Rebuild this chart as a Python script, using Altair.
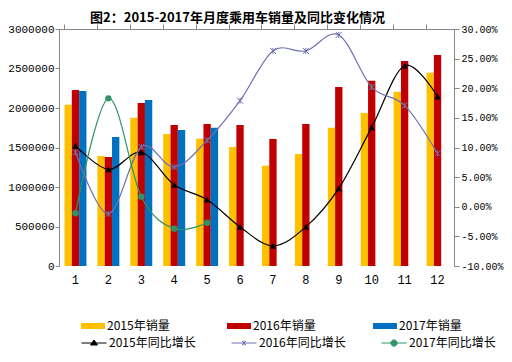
import altair as alt
import pandas as pd

# ---------------- data ----------------
months = [1, 2, 3, 4, 5, 6, 7, 8, 9, 10, 11, 12]
bar_names = ["2015年销量", "2016年销量", "2017年销量"]
bar_colors = ["#FFC000", "#C00000", "#0070C0"]
sales_2015 = [2040000, 1393000, 1877000, 1671000, 1611000, 1506000, 1270000, 1418000, 1751000, 1937000, 2207000, 2447000]
sales_2016 = [2228000, 1380000, 2063000, 1785000, 1797000, 1785000, 1608000, 1797000, 2266000, 2346000, 2595000, 2671000]
sales_2017 = [2215000, 1633000, 2101000, 1722000, 1751000]

growth_names = ["2015年同比增长", "2016年同比增长", "2017年同比增长"]
growth_colors = ["#000000", "#7070B0", "#2E9464"]
growth_2015 = [10.3, 6.3, 9.2, 3.7, 1.2, -3.4, -6.6, -3.4, 3.1, 13.4, 23.8, 18.6]
growth_2016 = [9.2, -1.2, 10.1, 6.7, 11.2, 17.9, 26.3, 26.3, 29.0, 20.2, 17.1, 9.0]
growth_2017 = [-1.1, 18.3, 1.7, -3.7, -2.7]

left_ticks = [0, 500000, 1000000, 1500000, 2000000, 2500000, 3000000]
right_ticks = [-0.10, -0.05, 0.0, 0.05, 0.10, 0.15, 0.20, 0.25, 0.30]
title_text = "图2：2015-2017年月度乘用车销量及同比变化情况"

# ---------------- tables ----------------
bar_rows = []
for name, vals in zip(bar_names, [sales_2015, sales_2016, sales_2017]):
    for m, v in zip(months, vals):
        bar_rows.append({"month": m, "series": name, "value": v})
bar_df = pd.DataFrame(bar_rows)

AX = "#868686"
NUMFONT = "Liberation Mono"
CJK = "Noto Sans CJK SC"

xscale = alt.Scale(domain=months, paddingInner=0.333, paddingOuter=0.1667)
yl_scale = alt.Scale(domain=[0, 3000000], nice=False, zero=True)
yr_scale = alt.Scale(domain=[-0.10, 0.30], nice=False, zero=False)

bars = alt.Chart(bar_df).mark_bar().encode(
    x=alt.X("month:O", scale=xscale, sort=months,
            axis=alt.Axis(title=None, labelAngle=0, ticks=False, tickSize=0, domain=False,
                          labelPadding=8, labelFont=NUMFONT, labelFontSize=12, labelColor="#000")),
    xOffset=alt.XOffset("series:N", scale=alt.Scale(domain=bar_names, paddingInner=0, paddingOuter=0)),
    y=alt.Y("value:Q", scale=yl_scale,
            axis=alt.Axis(title=None, orient="left", values=left_ticks, format="d", grid=False,
                          tickSize=4, tickColor=AX, domainColor=AX, labelPadding=1,
                          labelFont=NUMFONT, labelFontSize=11, labelColor="#000")),
    color=alt.Color("series:N", scale=alt.Scale(domain=bar_names, range=bar_colors),
                    legend=alt.Legend(orient="none", legendX=22, legendY=285, direction="horizontal",
                                      title=None, symbolType="M-1,-0.25H1V0.25H-1Z", symbolSize=576,
                                      symbolStrokeWidth=0, labelFont=CJK, labelFontSize=12,
                                      labelColor="#000", labelOffset=2, columnPadding=57)),
)

layers = [bars]

star_path = "M-1,-1L1,1M-1,1L1,-1M0,-1V1"
specs = [
    (growth_2015, growth_colors[0], "triangle-up", 45, True),
    (growth_2016, growth_colors[1], star_path, 36, False),
    (growth_2017, growth_colors[2], "circle", 40, True),
]
for i, (vals, col, shp, sz, filled) in enumerate(specs):
    df = pd.DataFrame({"month": months[:len(vals)], "growth": [v / 100 for v in vals]})
    if i == 0:
        xax = alt.Axis(title=None, bandPosition=0, labels=False, ticks=True, tickSize=5,
                       tickColor=AX, domain=True, domainColor=AX)
        yax = alt.Axis(title=None, orient="right", values=right_ticks, format=".2%", grid=False,
                       labelExpr="replace(datum.label, '\u2212', '-')",
                       tickSize=5, tickColor=AX, domainColor=AX, labelPadding=2,
                       labelFont=NUMFONT, labelFontSize=10, labelColor="#000")
    else:
        xax = None
        yax = None
    line = alt.Chart(df).mark_line(color=col, strokeWidth=1.2, interpolate="cardinal").encode(
        x=alt.X("month:O", scale=xscale, sort=months, axis=xax),
        y=alt.Y("growth:Q", scale=yr_scale, axis=yax),
    )
    pts = alt.Chart(df).mark_point(shape=shp, size=sz, filled=filled, color=col, strokeWidth=1,
                                   opacity=1).encode(
        x=alt.X("month:O", scale=xscale, sort=months, axis=None),
        y=alt.Y("growth:Q", scale=yr_scale, axis=None),
    )
    layers += [line, pts]

# legend for the growth lines (scale domain drives the entries)
leg_paths = [
    "M-1,0H1M0,-0.24L0.28,0.16L-0.28,0.16Z",
    "M-1,0H1M-0.16,-0.16L0.16,0.16M-0.16,0.16L0.16,-0.16M0,-0.2V0.2",
    "M-1,0H1M-0.25,0A0.25,0.25,0,1,0,0.25,0A0.25,0.25,0,1,0,-0.25,0Z",
]
leg_df = pd.DataFrame({"g": growth_names})
leg_props = dict(orient="none", legendX=22, legendY=301, direction="horizontal", title=None,
                 symbolSize=625, symbolStrokeWidth=1, labelFont=CJK, labelFontSize=12,
                 labelColor="#000", labelOffset=2, columnPadding=33)
leg_layer = alt.Chart(leg_df).mark_point(filled=True, opacity=1).encode(
    fill=alt.Fill("g:N", scale=alt.Scale(domain=growth_names, range=growth_colors),
                  legend=alt.Legend(**leg_props)),
    stroke=alt.Stroke("g:N", scale=alt.Scale(domain=growth_names, range=growth_colors),
                      legend=alt.Legend(**leg_props)),
    shape=alt.Shape("g:N", scale=alt.Scale(domain=growth_names, range=leg_paths),
                    legend=alt.Legend(**leg_props)),
).transform_filter("false")
layers.append(leg_layer)

chart = alt.layer(*layers).resolve_scale(y="independent").resolve_axis(
    x="independent", y="independent"
).properties(
    width=395, height=237,
    padding={"left": 51, "top": 21, "right": 50, "bottom": 84},
    autosize="none",
    title=alt.TitleParams(title_text, font=CJK, fontSize=13, fontWeight="bold", anchor="middle",
                          dx=-19, offset=-2, color="#000"),
).configure_view(stroke=None)

chart.save("out.html", embed_options={"renderer": "svg", "actions": False})
